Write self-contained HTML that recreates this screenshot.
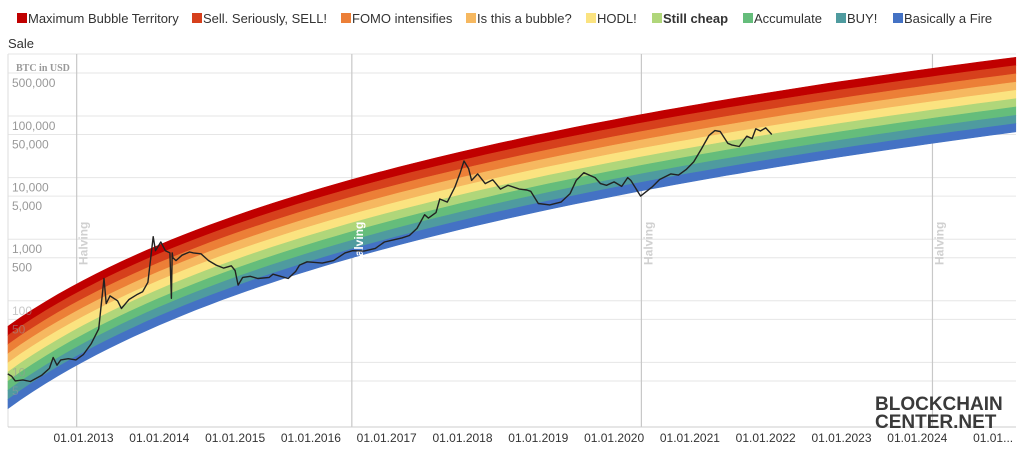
<!DOCTYPE html>
<html><head><meta charset="utf-8"><style>
body{margin:0;background:#fff;font-family:"Liberation Sans",sans-serif;}
svg{display:block}
</style></head><body>
<svg id="c" width="1024" height="459"></svg>
<script>
const legendLabels=["Maximum Bubble Territory","Sell. Seriously, SELL!","FOMO intensifies","Is this a bubble?","HODL!","Still cheap","Accumulate","BUY!","Basically a Fire"];
const bandColors=["#c00000","#d6401c","#ec7f37","#f6b860","#fbe380","#b0d67a","#65bd7b","#4f9b9f","#4472c4"];
const legendX=[17,192,341,466,586,652,743,836,893];
const yTickValues=[500000,100000,50000,10000,5000,1000,500,100,50,10,5];
const yTickLabels=["500,000","100,000","50,000","10,000","5,000","1,000","500","100","50","10","5"];
const xTickYears=[2013,2014,2015,2016,2017,2018,2019,2020,2021,2022,2023,2024,2025];
const xTickLabels=["01.01.2013","01.01.2014","01.01.2015","01.01.2016","01.01.2017","01.01.2018","01.01.2019","01.01.2020","01.01.2021","01.01.2022","01.01.2023","01.01.2024","01.01..."];
const halvingYears=[2012.91,2016.54,2020.36,2024.2];
// rainbow band edges: log10(price) = slope*ln(year-2009.02)+intercept
const bandTopCoef=[2.571,-1.22];
const bandBottomCoef=[2.646,-2.64];
const priceYears=[2012.0,2012.05,2012.1,2012.2,2012.3,2012.45,2012.55,2012.6,2012.65,2012.7,2012.8,2012.9,2013.0,2013.1,2013.2,2013.27,2013.3,2013.35,2013.45,2013.5,2013.6,2013.7,2013.78,2013.85,2013.92,2013.95,2013.98,2014.02,2014.08,2014.14,2014.16,2014.17,2014.18,2014.22,2014.3,2014.4,2014.45,2014.55,2014.65,2014.75,2014.85,2014.95,2015.0,2015.04,2015.1,2015.2,2015.3,2015.45,2015.5,2015.6,2015.7,2015.8,2015.85,2015.95,2016.05,2016.15,2016.3,2016.45,2016.55,2016.7,2016.85,2016.97,2017.05,2017.2,2017.3,2017.4,2017.5,2017.55,2017.65,2017.7,2017.8,2017.9,2017.97,2018.02,2018.08,2018.12,2018.2,2018.3,2018.4,2018.5,2018.6,2018.75,2018.85,2018.9,2019.0,2019.15,2019.3,2019.42,2019.5,2019.6,2019.75,2019.82,2019.9,2020.0,2020.1,2020.18,2020.22,2020.35,2020.5,2020.6,2020.75,2020.85,2020.95,2021.05,2021.15,2021.25,2021.33,2021.4,2021.5,2021.55,2021.65,2021.75,2021.82,2021.87,2021.93,2022.0,2022.08];
const priceValues=[6.5,6,5,5.2,4.9,6.2,8,12,9,11,11.5,11,13.5,20,35,230,90,120,100,75,105,125,140,200,1100,650,750,900,650,600,110,600,500,450,550,620,600,580,450,380,340,370,310,180,240,250,230,240,270,250,230,300,380,430,420,410,450,600,650,640,710,900,950,1050,1150,1500,2500,2200,2700,4500,4000,7000,12000,18600,14000,9000,11500,8000,9200,6500,7500,6500,6300,6000,3800,3600,4000,5500,9000,12000,10000,8000,7500,8500,7200,10000,9000,5000,7000,9300,11500,11000,13500,18000,29000,48000,58000,56000,36000,34000,32000,47000,43000,62000,57000,64000,50000,47000,41000];

const NS="http://www.w3.org/2000/svg";
const svg=document.getElementById('c');
function el(tag,attrs,parent){const e=document.createElementNS(NS,tag);for(const k in attrs)e.setAttribute(k,attrs[k]);(parent||svg).appendChild(e);return e;}
const x=yr=>83.5+(yr-2013)*75.8;
const y=v=>116-(Math.log10(v)-5)*61.6;
const yLog=l=>116-(l-5)*61.6;
const L=8,R=1016,T=54,B=427;

legendLabels.forEach((t,i)=>{
  const g=el('g',{});
  
  
  el('rect',{x:legendX[i],y:13,width:10,height:10,fill:bandColors[i]},g);
  const tx=el('text',{x:legendX[i]+11,y:23,'font-size':13,fill:'#333','font-weight':i==5?'bold':'normal'},g);
  tx.textContent=t;
});
const sale=el('text',{x:8,y:48,'font-size':13,fill:'#333'});

sale.textContent='Sale';

const grid=el('g',{});

el('line',{x1:L,y1:T,x2:R,y2:T,stroke:'#e6e6e6'},grid);
yTickValues.forEach(v=>el('line',{x1:L,y1:y(v),x2:R,y2:y(v),stroke:'#e6e6e6'},grid));
el('line',{x1:L,y1:T,x2:L,y2:B,stroke:'#ddd'},grid);
halvingYears.forEach(h=>{
  const ln=el('line',{x1:x(h),y1:T,x2:x(h),y2:B,stroke:'#c8c8c8','stroke-width':1.2},grid);
  
});

const bands=el('g',{});

const t0=2012.0,t1=2025.3,N=80;
function edge(k,t){const lt=Math.log(t-2009.02);const top=bandTopCoef[0]*lt+bandTopCoef[1];const bot=bandBottomCoef[0]*lt+bandBottomCoef[1];return top+(bot-top)*k/9;}
bandColors.forEach((c,i)=>{
  let up=[],dn=[];
  for(let j=0;j<=N;j++){const t=t0+(t1-t0)*j/N;up.push(Math.max(L,Math.min(R,x(t))).toFixed(1)+','+yLog(edge(i,t)).toFixed(1));dn.unshift(Math.max(L,Math.min(R,x(t))).toFixed(1)+','+yLog(edge(i+1,t)).toFixed(1));}
  const p=el('polygon',{points:up.concat(dn).join(' '),fill:c,stroke:c,'stroke-width':0.6},bands);
  
});

halvingYears.forEach((h,i)=>{
  const tx=el('text',{x:0,y:0,'font-size':12,'font-weight':'bold',fill:i==1?'#fff':'#d0d0d0',transform:`translate(${x(h)+11},265) rotate(-90)`});
  
  tx.textContent='Halving';
});

yTickValues.forEach((v,i)=>{
  const tx=el('text',{x:12,y:y(v)+14,'font-size':12,fill:'#999','fill-opacity':v<=100?0.55:1});
  
  tx.textContent=yTickLabels[i];
});
const yt=el('text',{x:16,y:71,'font-size':10,'font-weight':'bold',fill:'#999','font-family':'Liberation Serif,serif'});

yt.textContent='BTC in USD';

const pts=priceYears.map((t,i)=>x(t).toFixed(1)+','+y(priceValues[i]).toFixed(1)).join(' ');
const pl=el('polyline',{points:pts,fill:'none',stroke:'#222','stroke-width':1.4,'stroke-linejoin':'round'});


el('line',{x1:L,y1:B,x2:R,y2:B,stroke:'#ccc'});
xTickYears.forEach((yr,i)=>{
  const tx=el('text',{x:x(yr),y:442,'font-size':12,fill:'#333','text-anchor':'middle'});
  
  tx.textContent=xTickLabels[i];
});

const wm=el('g',{});

const w1=el('text',{x:875,y:410,'font-size':19,'font-weight':'bold',fill:'#3a3a3a'},wm);w1.textContent='BLOCKCHAIN';
const w2=el('text',{x:875,y:428,'font-size':19,'font-weight':'bold',fill:'#3a3a3a'},wm);w2.textContent='CENTER.NET';
</script>
</body></html>
